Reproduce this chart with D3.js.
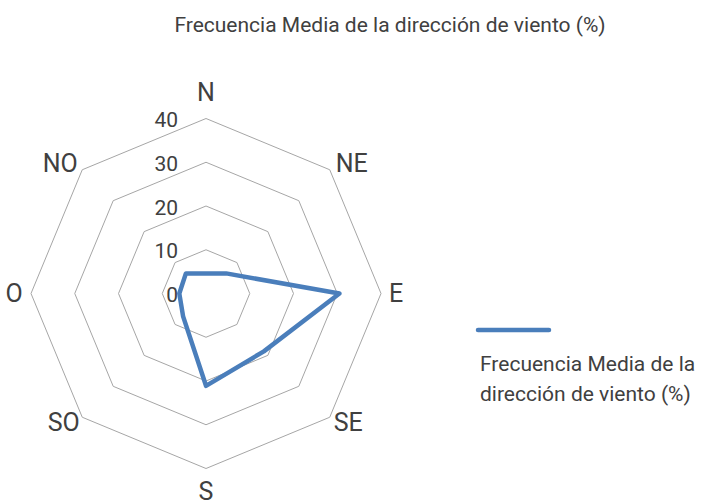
<!DOCTYPE html>
<html>
<head>
<meta charset="utf-8">
<script src="https://cdn.jsdelivr.net/npm/d3@7"></script>
<style>
body { margin: 0; background: white; }
text { font-family: Roboto, "Liberation Sans", sans-serif; fill: #404040; }
</style>
</head>
<body>
<script>
const largeur = 708;
const hauteur = 501;

const titre = "Frecuencia Media de la dirección de viento (%)";
const directions = ["N", "NE", "E", "SE", "S", "SO", "O", "NO"];
const frecuencias = [4.6, 6.5, 30.5, 18.7, 21.1, 7.4, 6.1, 6.5];
const graduations = [0, 10, 20, 30, 40];
const legende = ["Frecuencia Media de la", "dirección de viento (%)"];

const cx = 206;
const cy = 293.5;
const rayon = 175;

const svg = d3
.select("body")
.append("svg")
.attr("width", largeur)
.attr("height", hauteur);

svg.append("text")
.attr("x", 390)
.attr("y", 32)
.attr("text-anchor", "middle")
.attr("font-size", 21)
.text(titre);

const r = d3.scaleLinear().domain([0, 40]).range([0, rayon]);
const angle = d3.scalePoint().domain(directions.concat([""])).range([0, 2 * Math.PI]);

function point(dir, valeur)
{
    const a = angle(dir);
    return [cx + r(valeur) * Math.sin(a), cy - r(valeur) * Math.cos(a)];
}

const grille = svg.append("g");

graduations.filter(function(g) { return g > 0; }).forEach(function(g)
{
    grille.append("polygon")
    .attr("points", directions.map(function(d) { return point(d, g).join(","); }).join(" "))
    .attr("fill", "none")
    .attr("stroke", "#a6a6a6")
    .attr("stroke-width", 1);
});

grille
.selectAll("text.grad")
.data(graduations)
.enter()
.append("text")
.attr("class", "grad")
.attr("x", cx - 28)
.attr("y", function(d) { return cy - r(d) + 8.5; })
.attr("text-anchor", "end")
.attr("font-size", 21)
.text(function(d) { return d; });

const decalages = {
    "N": [0, -17.5], "NE": [22, 2], "E": [15, 8.5], "SE": [18.5, 13.5],
    "S": [0, 31], "SO": [-18.5, 13.5], "O": [-17, 8.5], "NO": [-22, 2]
};

svg
.selectAll("text.dir")
.data(directions)
.enter()
.append("text")
.attr("class", "dir")
.attr("x", function(d) { return point(d, 40)[0] + decalages[d][0]; })
.attr("y", function(d) { return point(d, 40)[1] + decalages[d][1]; })
.attr("text-anchor", "middle")
.attr("font-size", 25)
.text(function(d) { return d; });

const ligne = d3.lineRadial()
.angle(function(d, i) { return angle(directions[i]); })
.radius(function(d) { return r(d); })
.curve(d3.curveLinearClosed);

svg.append("path")
.attr("transform", "translate(" + cx + "," + cy + ")")
.attr("d", ligne(frecuencias))
.attr("fill", "none")
.attr("stroke", "#4a7ebb")
.attr("stroke-width", 4.5)
.attr("stroke-linejoin", "round");

svg.append("line")
.attr("x1", 478)
.attr("x2", 549)
.attr("y1", 330)
.attr("y2", 330)
.attr("stroke", "#4a7ebb")
.attr("stroke-width", 4.5)
.attr("stroke-linecap", "round");

svg
.selectAll("text.leg")
.data(legende)
.enter()
.append("text")
.attr("class", "leg")
.attr("x", 480)
.attr("y", function(d, i) { return 371 + i * 30; })
.attr("font-size", 21)
.text(function(d) { return d; });
</script>
</body>
</html>
